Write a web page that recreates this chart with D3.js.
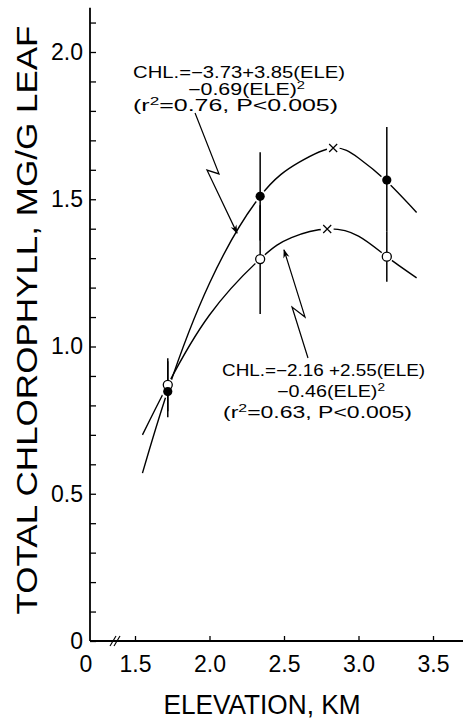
<!DOCTYPE html>
<html>
<head>
<meta charset="utf-8">
<script src="https://cdn.jsdelivr.net/npm/d3@7"></script>
<style>
  html, body { margin: 0; padding: 0; background: #fff; }
  svg { display: block; font-family: "Liberation Sans", Arial, sans-serif; }
</style>
</head>
<body>
<svg id="chart" width="463" height="723"></svg>
<script>
// values
const elevation = [1.72, 2.34, 3.19]
const chl_filled = [0.847, 1.51, 1.565]
const chl_open = [0.87, 1.297, 1.305]
const bar_filled = [[0.76, 0.95], [1.36, 1.66], [1.39, 1.745]]
const bar_open = [[0.78, 0.96], [1.11, 1.48], [1.22, 1.39]]

// fitted curves as drawn
const upper_x = [1.55, 1.72, 2.0, 2.34, 2.6, 2.83, 3.0, 3.18, 3.39]
const upper_y = [0.57, 0.85, 1.215, 1.51, 1.625, 1.674, 1.64, 1.565, 1.455]
const lower_x = [1.55, 1.72, 2.0, 2.34, 2.55, 2.79, 3.0, 3.19, 3.39]
const lower_y = [0.70, 0.87, 1.107, 1.297, 1.37, 1.399, 1.375, 1.305, 1.233]
const vertex_x = [2.83, 2.79]
const vertex_y = [1.674, 1.399]

const x_ticks = [1.5, 2.0, 2.5, 3.0, 3.5]
const y_ticks = d3.range(0, 22).map(i => i / 10)
const y_labels = [0, 0.5, 1.0, 1.5, 2.0]

// equation notes: [x, y] anchors in data units
const note_upper = { at: [[1.487, 1.912], [1.856, 1.854], [1.487, 1.800]], len: [212, 117, 205],
  lines: [['CHL.=\u22123.73+3.85(ELE)'], ['\u22120.69(ELE)', '2'], ['(r', '2', '=0.76,  P<0.005)']] }
const note_lower = { at: [[2.084, 0.900], [2.453, 0.829], [2.091, 0.757]], len: [203, 108, 189],
  lines: [['CHL.=\u22122.16 +2.55(ELE)'], ['\u22120.46(ELE)', '2'], ['(r', '2', '=0.63,  P<0.005)']] }
const leader_upper = [[1.903, 1.793], [2.064, 1.586], [1.983, 1.599], [2.185, 1.385]]
const leader_lower = [[2.661, 0.961], [2.554, 1.134], [2.641, 1.100], [2.5, 1.328]]

const svg = d3.select('#chart')
const x = d3.scaleLinear().domain([1.5, 3.5]).range([135, 433])
const y = d3.scaleLinear().domain([0, 2]).range([641, 52])
const x0 = 90

svg.append('defs').append('marker')
  .attr('id', 'head').attr('viewBox', '0 0 10 10').attr('refX', 9).attr('refY', 5)
  .attr('markerWidth', 9).attr('markerHeight', 9).attr('markerUnits', 'userSpaceOnUse')
  .attr('orient', 'auto')
  .append('path').attr('d', 'M0,1.5 L10,5 L0,8.5 L3,5 Z').attr('fill', '#000')

// y axis
const yAxis = svg.append('g').attr('transform', `translate(${x0},0)`)
  .call(d3.axisLeft(y).tickValues(y_ticks).tickSizeInner(-6).tickSizeOuter(0).tickPadding(7)
    .tickFormat(d => y_labels.some(v => Math.abs(v - d) < 1e-6) ? (d === 0 ? '0' : d3.format('.1f')(d)) : ''))
yAxis.select('.domain').remove()
yAxis.selectAll('line').attr('stroke-width', 1.3)
yAxis.selectAll('text').attr('font-size', 23).attr('fill', '#000')
yAxis.attr('font-family', null)
svg.append('line').attr('x1', x0).attr('x2', x0).attr('y1', y(0)).attr('y2', y(2.15))
  .attr('stroke', '#000').attr('stroke-width', 1.8)

// x axis
const xAxis = svg.append('g').attr('transform', `translate(0,${y(0)})`)
  .call(d3.axisBottom(x).tickValues(x_ticks).tickSizeInner(-5).tickSizeOuter(0).tickPadding(15)
    .tickFormat(d3.format('.1f')))
xAxis.select('.domain').remove()
xAxis.selectAll('line').attr('stroke-width', 1.3)
xAxis.selectAll('text').attr('font-size', 23).attr('fill', '#000')
xAxis.attr('font-family', null)
svg.append('line').attr('x1', x0).attr('x2', 463).attr('y1', y(0)).attr('y2', y(0))
  .attr('stroke', '#000').attr('stroke-width', 1.8)
svg.append('text').attr('x', x0 - 4).attr('y', y(0) + 31).attr('text-anchor', 'middle')
  .attr('font-size', 23).text('0')

// axis break
const bx = x(1.5) - 22
;[0, 4].forEach(o => {
  svg.append('line').attr('x1', bx + o - 3).attr('y1', y(0) + 5).attr('x2', bx + o + 3).attr('y2', y(0) - 5)
    .attr('stroke', '#000').attr('stroke-width', 1.2)
})

// titles
svg.append('text').attr('x', 262).attr('y', 714).attr('text-anchor', 'middle')
  .attr('font-size', 27).attr('textLength', 197).attr('lengthAdjust', 'spacingAndGlyphs')
  .text('ELEVATION, KM')
svg.append('text').attr('transform', 'translate(37,320) rotate(-90)').attr('text-anchor', 'middle')
  .attr('font-size', 29).attr('textLength', 589).attr('lengthAdjust', 'spacingAndGlyphs')
  .text('TOTAL CHLOROPHYLL, MG/G LEAF')

// fitted curves
const line = d3.line().curve(d3.curveNatural).x(d => x(d[0])).y(d => y(d[1]))
;[[upper_x, upper_y], [lower_x, lower_y]].forEach(([xs, ys]) => {
  svg.append('path').datum(xs.map((v, i) => [v, ys[i]])).attr('d', line)
    .attr('fill', 'none').attr('stroke', '#000').attr('stroke-width', 1.4)
})

// gaps around points
const halo = elevation.flatMap((e, i) => [[e, chl_filled[i]], [e, chl_open[i]]])
  .concat(vertex_x.map((v, i) => [v, vertex_y[i]]))
svg.selectAll('.halo').data(halo).enter()
  .append('circle').attr('cx', d => x(d[0])).attr('cy', d => y(d[1])).attr('r', 6.5).attr('fill', '#fff')

// error bars
;[bar_filled, bar_open].forEach(bars => {
  svg.selectAll(null).data(bars).enter().append('line')
    .attr('x1', (d, i) => x(elevation[i])).attr('x2', (d, i) => x(elevation[i]))
    .attr('y1', d => y(d[0])).attr('y2', d => y(d[1]))
    .attr('stroke', '#000').attr('stroke-width', 1.5)
})

// points
svg.selectAll('.open').data(chl_open).enter().append('circle')
  .attr('cx', (d, i) => x(elevation[i])).attr('cy', d => y(d)).attr('r', 4.5)
  .attr('fill', '#fff').attr('stroke', '#000').attr('stroke-width', 1.3)
svg.selectAll('.filled').data(chl_filled).enter().append('circle')
  .attr('cx', (d, i) => x(elevation[i])).attr('cy', d => y(d)).attr('r', 4.6).attr('fill', '#000')
svg.selectAll('.vertex').data(vertex_x).enter().append('path')
  .attr('transform', (d, i) => `translate(${x(d)},${y(vertex_y[i])})`)
  .attr('d', 'M-4,-4L4,4M-4,4L4,-4').attr('stroke', '#000').attr('stroke-width', 1.2)

// equations and leaders
;[note_upper, note_lower].forEach(note => {
  note.lines.forEach((parts, k) => {
    const t = svg.append('text').attr('x', x(note.at[k][0])).attr('y', y(note.at[k][1]))
      .attr('font-size', 16).attr('textLength', note.len[k]).attr('lengthAdjust', 'spacingAndGlyphs')
    parts.forEach((p, j) => {
      const s = t.append('tspan').text(p)
      if (j % 2 === 1) s.attr('font-size', 11).attr('dy', -6)
      else if (j > 0) s.attr('dy', 6)
    })
  })
})
const leader = d3.line().x(d => x(d[0])).y(d => y(d[1]))
;[leader_upper, leader_lower].forEach(p => {
  svg.append('path').attr('d', leader(p))
    .attr('fill', 'none').attr('stroke', '#000').attr('stroke-width', 1.2).attr('marker-end', 'url(#head)')
})
</script>
</body>
</html>
